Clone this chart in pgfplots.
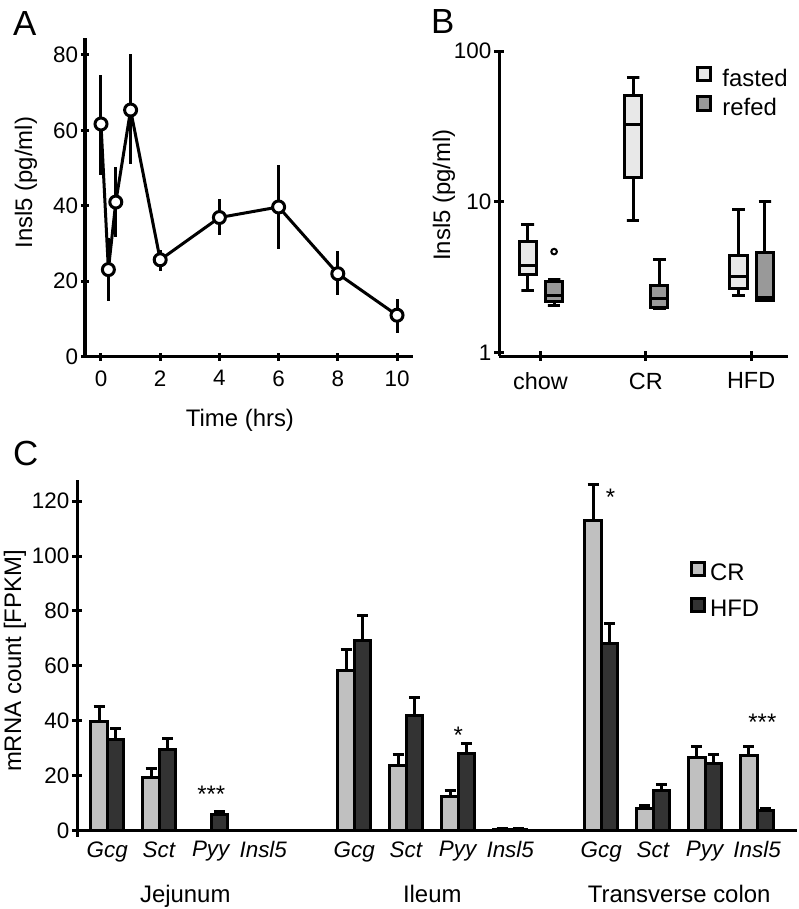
\documentclass[border=0pt]{standalone}
\usepackage{fontspec}
\setmainfont{Liberation Sans}
\usepackage{pgfplots}
\usepackage{pgfplotstable}
\pgfplotsset{compat=1.18}
\definecolor{fastedc}{HTML}{E8E8E8}
\definecolor{refedc}{HTML}{999999}
\definecolor{crc}{HTML}{C0C0C0}
\definecolor{hfdc}{HTML}{333333}

\pgfplotstableread{
x y ep em
0 61.7 13.1 13.4
0.25 23.1 8.4 8.4
0.5 41 9.3 9.3
1 65.4 14.8 14.4
2 25.7 2.5 2.9
4 36.9 4.8 4.7
6 39.7 11.1 11.1
8 22 5.9 5.6
10 11 4.2 4.8
}\dataA

\pgfplotstableread{
x cr crerr hfd hfderr
0 39.9 5.2 33.3 4.0
1 19.4 3.1 29.6 3.8
2 0 0 5.9 1.0
3 0 0 0 0
4.75 58.3 7.5 69.4 8.9
5.75 23.7 4.1 42.1 6.4
6.75 12.4 2.4 28.2 3.6
7.75 0.5 0.2 0.5 0.2
9.5 112.9 13.3 68.0 7.5
10.5 8.1 1.2 14.8 2.1
11.5 26.7 4.1 24.3 3.6
12.5 27.2 3.6 7.2 0.9
}\dataC

\pgfplotsset{
  every axis/.append style={
    scale only axis,
    line width=3bp,
    clip=false,
    tick align=outside,
    major tick length=8bp,
    tick style={line width=3bp, black},
    tick label style={font=\fontsize{22.5}{27}\selectfont},
    label style={font=\fontsize{24}{28}\selectfont},
    legend style={font=\fontsize{24}{28}\selectfont},
    /pgf/number format/assume math mode=true,
    yticklabel style={inner sep=1.5bp},
  },
  every non boxed x axis/.append style={x axis line style={-, line width=3bp}},
  every non boxed y axis/.append style={y axis line style={-, line width=3bp}},
  boxst/.style={draw=black, line width=3bp, line join=miter},
}

\begin{document}
\begin{tikzpicture}
\useasboundingbox (0,0) rectangle (799bp,-909bp);

% Panel labels
\node[anchor=base west, inner sep=0pt, font=\fontsize{35}{38}\selectfont] at (13bp,-35bp) {A};
\node[anchor=base west, inner sep=0pt, font=\fontsize{35}{38}\selectfont] at (431bp,-33bp) {B};
\node[anchor=base west, inner sep=0pt, font=\fontsize{35}{38}\selectfont] at (13bp,-465bp) {C};

% ---------------- Panel A ----------------
\begin{axis}[
  at={(85bp,-356.7bp)}, anchor=south west,
  width=328.3bp, height=318.7bp,
  axis lines=left,
  xmin=-0.54, xmax=10.55, ymin=0, ymax=84.5,
  xtick={0,2,4,6,8,10}, ytick={0,20,40,60,80},
  xticklabel style={yshift=-5bp},
  xlabel={Time (hrs)}, ylabel={Insl5 (pg/ml)},
  xlabel style={at={(axis description cs:0.472,-0.199)}, anchor=center},
  ylabel style={at={(axis description cs:-0.18,0.546)}, anchor=center},
]
\addplot[black, line width=3bp, mark=*, mark size=6bp,
  mark options={fill=white, line width=3bp},
  error bars/.cd, y dir=both, y explicit, error mark=none,
  error bar style={line width=3bp}]
  table[x=x, y=y, y error plus=ep, y error minus=em] {\dataA};
\end{axis}

% ---------------- Panel B ----------------
\begin{axis}[
  at={(499.3bp,-356bp)}, anchor=south west,
  width=288.7bp, height=305bp,
  axis lines=left,
  ymode=log, ymin=0.945, ymax=100,
  xmin=-0.39, xmax=2.35,
  xtick={0,1,2}, xticklabels={chow,CR,HFD},
  xticklabel style={font=\fontsize{23.5}{28}\selectfont, yshift=-7bp},
  ytick={1,10,100}, yticklabels={1,10,100},
  yminorticks=false,
  major tick length=10bp,
  ylabel={Insl5 (pg/ml)},
  ylabel style={at={(axis description cs:-0.1915,0.528)}, anchor=center},
  legend style={at={(axis description cs:0.676,0.957)}, anchor=north west,
    draw=none, fill=none, inner sep=0pt, row sep=4bp,
    nodes={inner sep=0pt, text height=17bp, text depth=5bp}},
  legend cell align=left,
]
% chow fasted: lw 2.59, q1 3.26, med 3.78, q3 5.43, uw 7.0 at x=-0.12
\addplot[boxst, fill=fastedc, forget plot] coordinates {(-0.201,3.26) (-0.039,3.26) (-0.039,5.43) (-0.201,5.43)} -- cycle;
\addplot[boxst, forget plot] coordinates {(-0.18,7.0) (-0.06,7.0) (-0.12,7.0) (-0.12,5.43) (-0.201,5.43) (-0.201,3.78) (-0.039,3.78) (-0.039,3.26) (-0.12,3.26) (-0.12,2.59) (-0.18,2.59) (-0.06,2.59)};
% chow refed: lw 2.04, q1 2.17, med 2.40, q3 2.94, uw 3.05 at x=0.13, outlier 4.66
\addplot[boxst, fill=refedc, forget plot] coordinates {(0.049,2.17) (0.211,2.17) (0.211,2.94) (0.049,2.94)} -- cycle;
\addplot[boxst, forget plot] coordinates {(0.07,3.05) (0.19,3.05) (0.13,3.05) (0.13,2.94) (0.049,2.94) (0.049,2.40) (0.211,2.40) (0.211,2.17) (0.13,2.17) (0.13,2.04) (0.07,2.04) (0.19,2.04)};
\addplot[only marks, mark=o, mark size=2.8bp, mark options={line width=2bp, draw=black, fill=white}, forget plot] coordinates {(0.13,4.66)};
% CR fasted: lw 7.48, q1 14.5, med 32.3, q3 50.5, uw 66.9 at x=0.88
\addplot[boxst, fill=fastedc, forget plot] coordinates {(0.799,14.5) (0.961,14.5) (0.961,50.5) (0.799,50.5)} -- cycle;
\addplot[boxst, forget plot] coordinates {(0.82,66.9) (0.94,66.9) (0.88,66.9) (0.88,50.5) (0.799,50.5) (0.799,32.3) (0.961,32.3) (0.961,14.5) (0.88,14.5) (0.88,7.48) (0.82,7.48) (0.94,7.48)};
% CR refed: lw 1.96, q1 1.99, med 2.26, q3 2.76, uw 4.10 at x=1.13
\addplot[boxst, fill=refedc, forget plot] coordinates {(1.049,1.99) (1.211,1.99) (1.211,2.76) (1.049,2.76)} -- cycle;
\addplot[boxst, forget plot] coordinates {(1.07,4.10) (1.19,4.10) (1.13,4.10) (1.13,2.76) (1.049,2.76) (1.049,2.26) (1.211,2.26) (1.211,1.99) (1.13,1.99) (1.13,1.96) (1.07,1.96) (1.19,1.96)};
% HFD fasted: lw 2.40, q1 2.66, med 3.18, q3 4.38, uw 8.9 at x=1.88
\addplot[boxst, fill=fastedc, forget plot] coordinates {(1.799,2.66) (1.961,2.66) (1.961,4.38) (1.799,4.38)} -- cycle;
\addplot[boxst, forget plot] coordinates {(1.82,8.9) (1.94,8.9) (1.88,8.9) (1.88,4.38) (1.799,4.38) (1.799,3.18) (1.961,3.18) (1.961,2.66) (1.88,2.66) (1.88,2.40) (1.82,2.40) (1.94,2.40)};
% HFD refed: lw 2.22, q1 2.22, med 2.30, q3 4.61, uw 10.1 at x=2.13
\addplot[boxst, fill=refedc, forget plot] coordinates {(2.049,2.22) (2.211,2.22) (2.211,4.61) (2.049,4.61)} -- cycle;
\addplot[boxst, forget plot] coordinates {(2.07,10.1) (2.19,10.1) (2.13,10.1) (2.13,4.61) (2.049,4.61) (2.049,2.30) (2.211,2.30) (2.211,2.22) (2.13,2.22)};

\addlegendimage{legend image code/.code={\draw[fill=fastedc,draw=black,line width=3bp] (0bp,-0.5bp) rectangle (13.5bp,13bp); \path[draw=none,fill=none] (0bp,0bp) -- (25bp,0bp);}}
\addlegendentry{fasted}
\addlegendimage{legend image code/.code={\draw[fill=refedc,draw=black,line width=3bp] (0bp,-0.5bp) rectangle (13.5bp,13bp); \path[draw=none,fill=none] (0bp,0bp) -- (25bp,0bp);}}
\addlegendentry{refed}
\end{axis}

% ---------------- Panel C ----------------
\begin{axis}[
  at={(77.3bp,-836.7bp)}, anchor=south west,
  width=719.4bp, height=356.7bp,
  axis x line=middle, axis y line=left,
  x axis line style={-, line width=3bp}, y axis line style={-, line width=3bp},
  xmin=-0.577, xmax=13.26, ymin=-2.2, ymax=127.7,
  ytick={0,20,40,60,80,100,120},
  major tick length=10bp,
  hide obscured y ticks=false,
  xtick={0,1,2,3,4.75,5.75,6.75,7.75,9.5,10.5,11.5,12.5},
  xticklabels={\textit{Gcg},\textit{Sct},\textit{Pyy},\textit{Insl5},
               \textit{Gcg},\textit{Sct},\textit{Pyy},\textit{Insl5},
               \textit{Gcg},\textit{Sct},\textit{Pyy},\textit{Insl5}},
  major x tick style={draw=none},
  xticklabel style={anchor=north, yshift=-1bp},
  ylabel={mRNA count [FPKM]},
  ylabel style={at={(axis description cs:-0.0866,0.4926)}, anchor=center},
  legend style={at={(axis description cs:0.849,0.778)}, anchor=north west,
    draw=none, fill=none, inner sep=0pt, row sep=11bp,
    nodes={inner sep=0pt, text height=17bp, text depth=5bp}},
  legend cell align=left,
]
\addplot[ybar, bar width=16.5bp, bar shift=0pt, fill=crc, draw=black, line width=3bp, forget plot,
  error bars/.cd, y dir=plus, y explicit,
  error bar style={line width=3bp, black},
  error mark options={rotate=90, mark size=5.5bp, line width=3bp, black}]
  table[x expr=\thisrow{x}-0.158, y=cr, y error=crerr] {\dataC};
\addplot[ybar, bar width=16.5bp, bar shift=0pt, fill=hfdc, draw=black, line width=3bp, forget plot,
  error bars/.cd, y dir=plus, y explicit,
  error bar style={line width=3bp, black},
  error mark options={rotate=90, mark size=5.5bp, line width=3bp, black}]
  table[x expr=\thisrow{x}+0.158, y=hfd, y error=hfderr] {\dataC};

\addlegendimage{legend image code/.code={\draw[fill=crc,draw=black,line width=3bp] (0bp,-1bp) rectangle (13.5bp,12.5bp); \path[draw=none,fill=none] (0bp,0bp) -- (19bp,0bp);}}
\addlegendentry{CR}
\addlegendimage{legend image code/.code={\draw[fill=hfdc,draw=black,line width=3bp] (0bp,-1bp) rectangle (13.5bp,12.5bp); \path[draw=none,fill=none] (0bp,0bp) -- (19bp,0bp);}}
\addlegendentry{HFD}

% significance stars
\node[anchor=base, font=\fontsize{24}{28}\selectfont] at (axis cs:2,10.4) {***};
\node[anchor=base, font=\fontsize{24}{28}\selectfont] at (axis cs:6.75,31.6) {*};
\node[anchor=base, font=\fontsize{24}{28}\selectfont] at (axis cs:9.68,118.4) {*};
\node[anchor=base, font=\fontsize{24}{28}\selectfont] at (axis cs:12.6,36.3) {***};

% group labels
\node[anchor=base, font=\fontsize{24}{28}\selectfont] at (axis cs:1.5,-26.3) {Jejunum};
\node[anchor=base, font=\fontsize{24}{28}\selectfont] at (axis cs:6.25,-26.3) {Ileum};
\node[anchor=base, font=\fontsize{24}{28}\selectfont] at (axis cs:11.0,-26.3) {Transverse colon};
\end{axis}
\end{tikzpicture}
\end{document}
